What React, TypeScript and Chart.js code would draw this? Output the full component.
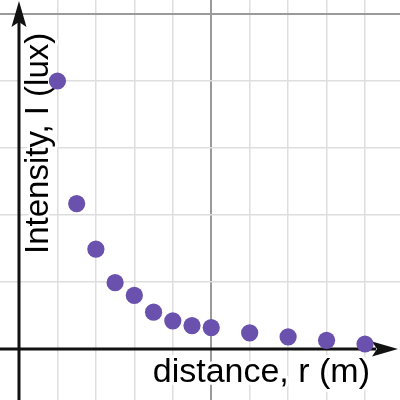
import React, { useEffect, useRef } from "react";
import { Chart, registerables } from "chart.js";

Chart.register(...registerables);

// Data (grid units)
const distances = [1, 1.5, 2, 2.5, 3, 3.5, 4, 4.5, 5, 6, 7, 8, 9];
const intensities = [4.0, 2.17, 1.49, 0.99, 0.8, 0.55, 0.42, 0.35, 0.32, 0.24, 0.18, 0.13, 0.075];

const xMin = -0.494;
const xMax = 9.91;
const yMin = -0.761;
const yMax = 5.209;
const majorEvery = 5;

const xLabel = "distance, r (m)";
const yLabel = "Intensity, I (lux)";

const pointColor = "#6b51ae";
const minorGrid = "#dedede";
const majorGrid = "#9a9a9a";
const axisColor = "#111111";
const xLabelFont = "34px 'Liberation Sans', Arial, sans-serif";
const yLabelFont = "33px 'Liberation Sans', Arial, sans-serif";

function gridColor(ctx: any) {
  const v = ctx.tick ? ctx.tick.value : NaN;
  if (Math.abs(v - Math.round(v)) > 1e-6 || Math.round(v) === 0) return "rgba(0,0,0,0)";
  return Math.round(v) % majorEvery === 0 ? majorGrid : minorGrid;
}
function gridWidth(ctx: any) {
  const v = ctx.tick ? ctx.tick.value : NaN;
  return Math.round(v) % majorEvery === 0 ? 2 : 1.5;
}
function integerTicks(scale: any) {
  const ticks = [];
  for (let v = Math.ceil(scale.min); v <= Math.floor(scale.max); v++) ticks.push({ value: v });
  scale.ticks = ticks;
}

const axesPlugin = {
  id: "desmosAxes",
  beforeDatasetsDraw(chart: any) {
    const { ctx, chartArea, scales } = chart;
    const x0 = scales.x.getPixelForValue(0);
    const y0 = scales.y.getPixelForValue(0);
    ctx.save();

    // Axis labels with white halo
    ctx.lineJoin = "round";
    ctx.strokeStyle = "#ffffff";
    ctx.lineWidth = 6;
    ctx.fillStyle = "#000000";
    ctx.textBaseline = "alphabetic";
    ctx.font = xLabelFont;
    ctx.textAlign = "right";
    ctx.strokeText(xLabel, chartArea.right - 30, y0 + 33);
    ctx.fillText(xLabel, chartArea.right - 30, y0 + 33);

    ctx.save();
    ctx.font = yLabelFont;
    ctx.translate(x0 + 29, y0 - 95);
    ctx.rotate(-Math.PI / 2);
    ctx.textAlign = "left";
    ctx.strokeText(yLabel, 0, 0);
    ctx.fillText(yLabel, 0, 0);
    ctx.restore();

    // Axes lines
    ctx.strokeStyle = axisColor;
    ctx.fillStyle = axisColor;
    ctx.lineWidth = 3;
    ctx.beginPath();
    ctx.moveTo(x0, chartArea.bottom);
    ctx.lineTo(x0, chartArea.top + 22);
    ctx.moveTo(chartArea.left, y0);
    ctx.lineTo(chartArea.right - 24, y0);
    ctx.stroke();

    // Arrow heads
    const tipY = chartArea.top + 1;
    ctx.beginPath();
    ctx.moveTo(x0, tipY);
    ctx.lineTo(x0 + 7.5, tipY + 26);
    ctx.lineTo(x0, tipY + 21);
    ctx.lineTo(x0 - 7.5, tipY + 26);
    ctx.closePath();
    ctx.fill();

    const tipX = chartArea.right - 2;
    ctx.beginPath();
    ctx.moveTo(tipX, y0);
    ctx.lineTo(tipX - 26, y0 - 7.5);
    ctx.lineTo(tipX - 21, y0);
    ctx.lineTo(tipX - 26, y0 + 7.5);
    ctx.closePath();
    ctx.fill();

    ctx.restore();
  },
};

export default function App() {
  const ref = useRef<HTMLCanvasElement>(null);

  useEffect(() => {
    if (!ref.current) return;
    const chart = new Chart(ref.current, {
      type: "scatter",
      data: {
        datasets: [
          {
            data: distances.map((r, i) => ({ x: r, y: intensities[i] })),
            backgroundColor: pointColor,
            borderWidth: 0,
            pointRadius: 8.6,
            pointHoverRadius: 8.6,
          },
        ],
      },
      options: {
        animation: false,
        responsive: false,
        events: [],
        layout: { padding: 0, autoPadding: false },
        plugins: { legend: { display: false }, tooltip: { enabled: false } },
        scales: {
          x: {
            type: "linear",
            min: xMin,
            max: xMax,
            afterBuildTicks: integerTicks,
            ticks: { display: false },
            border: { display: false },
            grid: { drawTicks: false, color: gridColor, lineWidth: gridWidth },
          },
          y: {
            type: "linear",
            min: yMin,
            max: yMax,
            afterBuildTicks: integerTicks,
            ticks: { display: false },
            border: { display: false },
            grid: { drawTicks: false, color: gridColor, lineWidth: gridWidth },
          },
        },
      },
      plugins: [axesPlugin],
    });
    return () => chart.destroy();
  }, []);

  return (
    <div style={{ position: "absolute", left: 0, top: 0, width: 400, height: 400, background: "#fff" }}>
      <canvas ref={ref} width={400} height={400} style={{ display: "block" }} />
    </div>
  );
}
